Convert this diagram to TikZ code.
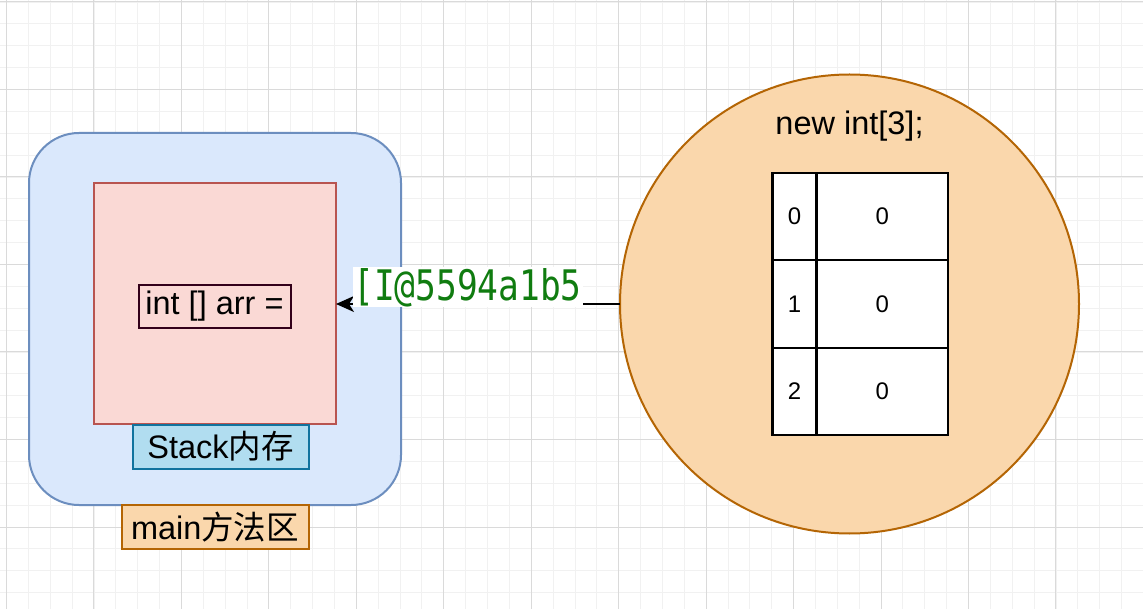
\documentclass[tikz,border=0pt]{standalone}
\usepackage{fontspec}
\setmainfont{Liberation Sans}
\newfontfamily\cjk{Noto Sans CJK SC}
\newfontfamily\monof{DejaVu Sans Mono}
\usetikzlibrary{arrows.meta}
\definecolor{blueF}{HTML}{DAE8FC}
\definecolor{blueD}{HTML}{6C8EBF}
\definecolor{redF}{HTML}{FAD9D5}
\definecolor{redD}{HTML}{B85450}
\definecolor{maroon}{HTML}{33001A}
\definecolor{cyanF}{HTML}{B1DDF0}
\definecolor{cyanD}{HTML}{10739E}
\definecolor{orF}{HTML}{FAD7AC}
\definecolor{orD}{HTML}{B46504}
\definecolor{codeG}{RGB}{16,124,16}
\definecolor{gridMaj}{HTML}{DADADA}
\definecolor{gridMin}{HTML}{F1F1F1}
\tikzset{
  box/.style={draw, line width=2pt, inner sep=0pt, outer sep=0pt, font=\fontsize{32.5}{38}\selectfont},
  cell/.style={draw=black, line width=2.2pt, fill=white, inner sep=0pt, outer sep=0pt, minimum height=87.5pt, font=\fontsize{24}{28}\selectfont},
}
\begin{document}
\begin{tikzpicture}[x=1pt,y=-1pt]
\useasboundingbox (0,0) rectangle (1143,609);
\fill[white] (0,0) rectangle (1143,609);
% grid
\foreach \i in {-1,...,52} {
  \draw[gridMin, line width=0.8pt] ({6.5+21.8625*\i},0) -- ({6.5+21.8625*\i},609);
}
\foreach \j in {-1,...,28} {
  \draw[gridMin, line width=0.8pt] (0,{2+21.875*\j}) -- (1143,{2+21.875*\j});
}
\foreach \i in {0,...,13} {
  \draw[gridMaj, line width=1pt] ({6.5+87.45*\i},0) -- ({6.5+87.45*\i},609);
}
\foreach \j in {0,...,7} {
  \draw[gridMaj, line width=1pt] (0,{2+87.5*\j}) -- (1143,{2+87.5*\j});
}
% main method area
\node[box, draw=blueD, fill=blueF, rounded corners=50pt, minimum width=372pt, minimum height=372pt] (outer) at (215,319) {};
\node[box, draw=redD, fill=redF, minimum width=242pt, minimum height=241pt] (stack) at (215,303.5) {};
\node[box, draw=maroon, fill=redF, minimum width=152pt, minimum height=43pt] (arr) at (214.5,306.5) {int [] arr =};
\node[box, draw=cyanD, fill=cyanF, minimum width=176pt, minimum height=44pt] (stacklbl) at (220.5,446.5) {Stack{\cjk 内存}};
\node[box, draw=orD, fill=orF, minimum width=187pt, minimum height=44pt] (mainlbl) at (215,527) {main{\cjk 方法区}};
% heap object
\node[circle, draw=orD, fill=orF, line width=2pt, minimum size=459pt, inner sep=0pt, outer sep=0pt] (heap) at (849.5,304) {};
\node[font=\fontsize{32.5}{38}\selectfont, inner sep=0pt] (newlbl) at (849.5,126) {new int[3];};
\node[cell, minimum width=44pt] (i0) at (794.5,216.5) {0};
\node[cell, minimum width=131.5pt] (v0) at (882.25,216.5) {0};
\node[cell, minimum width=44pt] (i1) at (794.5,304) {1};
\node[cell, minimum width=131.5pt] (v1) at (882.25,304) {0};
\node[cell, minimum width=44pt] (i2) at (794.5,391.5) {2};
\node[cell, minimum width=131.5pt] (v2) at (882.25,391.5) {0};
% reference arrow
\draw[line width=1.6pt, -{Stealth[length=18pt, width=16pt, inset=5pt]}] (heap.west) -- (stack.east |- heap.west);
\node[fill=white, inner sep=0pt, minimum width=230pt, minimum height=40pt, text=codeG] (addr) at (467.5,287.5) {\scalebox{1}[1.22]{\monof\fontsize{34.5}{40}\selectfont [I@5594a1b5}};
\end{tikzpicture}
\end{document}
